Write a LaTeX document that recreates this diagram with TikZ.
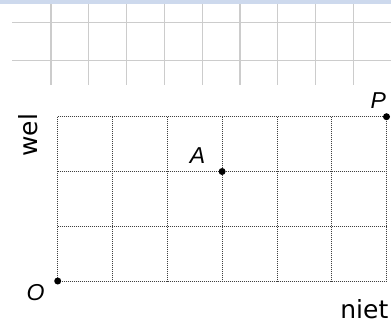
\documentclass[tikz,border=0pt]{standalone}
\usepackage{fontspec}
\setmainfont{DejaVu Sans}
\newfontfamily\labfont{Liberation Sans}
\definecolor{bandblue}{RGB}{205,217,237}
\begin{document}
\begin{tikzpicture}[x=1pt,y=-1pt,
  topgrid/.style={draw=black!20,line width=1.3pt},
  dotgrid/.style={draw=black!75,line width=0.8pt,dash pattern=on 1pt off 1pt},
  pt/.style={circle,fill=black,inner sep=0pt,minimum size=7pt},
  letter/.style={inner sep=0pt,text=black,font=\labfont\itshape\fontsize{23}{27}\selectfont},
  word/.style={inner sep=0pt,text=black,font=\fontsize{25}{30}\selectfont}]
\useasboundingbox (0,0) rectangle (391,325);
% top band and grid
\fill[bandblue] (0,0) rectangle (391,4);
\foreach \k in {0,...,8} \draw[topgrid] ({51+37.8*\k},4) -- ({51+37.8*\k},85);
\foreach \yy in {22.7,60.3} \draw[topgrid] (12,\yy) -- (391,\yy);
% dotted grid
\foreach \i in {0,...,6} \draw[dotgrid] ({57.7+54.8*\i},116.7) -- ({57.7+54.8*\i},281);
\foreach \j in {0,...,3} \draw[dotgrid] (57.7,{281-54.77*\j}) -- (386.5,{281-54.77*\j});
% points
\node[pt] (O) at (57.7,281) {};
\node[pt] (A) at (222.1,171.5) {};
\node[pt] (P) at (386.5,116.7) {};
\node[letter,anchor=base west] (lO) at (26.5,300) {O};
\node[letter,anchor=base east] (lA) at (205.5,163.5) {A};
\node[letter,anchor=base west] (lP) at (370.5,108) {P};
% axis words
\node[word,anchor=base east] (niet) at (388.5,318.5) {niet};
\node[word,anchor=base west,rotate=90] (wel) at (37,157) {wel};
\end{tikzpicture}
\end{document}
